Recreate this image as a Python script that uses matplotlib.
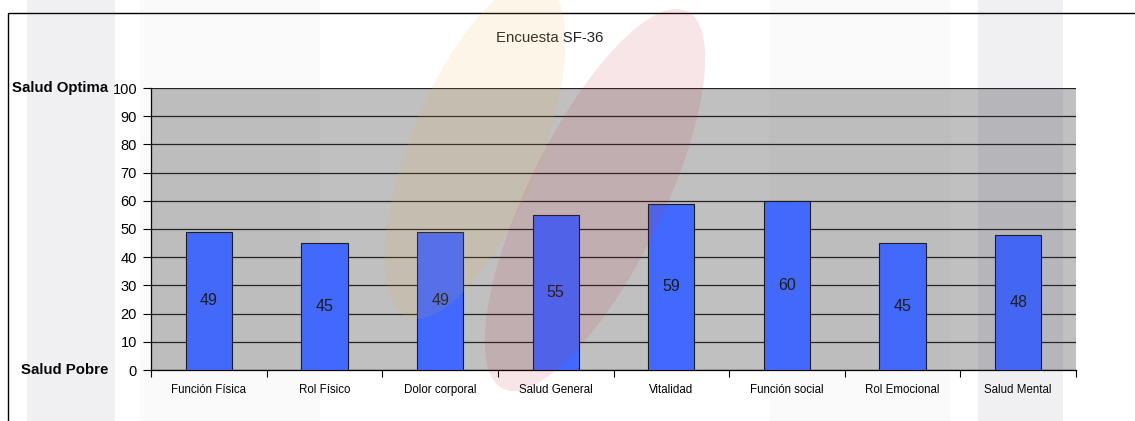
import numpy as np
import matplotlib.pyplot as plt
from matplotlib.patches import Rectangle, Ellipse

plt.rcParams['font.family'] = ['Liberation Sans', 'DejaVu Sans']

# SF-36 domain scores
dominios = ['Función Física', 'Rol Físico', 'Dolor corporal', 'Salud General',
            'Vitalidad', 'Función social', 'Rol Emocional', 'Salud Mental']
puntajes = [49, 45, 49, 55, 59, 60, 45, 48]
marcas_y = [0, 10, 20, 30, 40, 50, 60, 70, 80, 90, 100]

W, H = 1135, 421
fig = plt.figure(figsize=(W / 100, H / 100), dpi=100)
fig.patch.set_facecolor('white')

ax = fig.add_axes([151 / W, 1 - 370 / H, 925 / W, 282 / H])
ax.set_facecolor('#c0c0c0')

x = np.arange(len(dominios))
barras = ax.bar(x, puntajes, width=0.4, color='#4169ff', edgecolor='#1a1a1a',
                linewidth=0.8, zorder=3)
for xi, v in zip(x, puntajes):
    ax.text(xi, v / 2, str(v), ha='center', va='center', fontsize=11.5,
            color='#1a1a1a', zorder=4)

ax.set_xlim(-0.5, len(dominios) - 0.5)
ax.set_ylim(0, 100)
ax.set_yticks(marcas_y)
ax.set_yticklabels([str(m) for m in marcas_y], fontsize=10.5)
ax.yaxis.grid(True, color='#222222', linewidth=0.9, zorder=1)
ax.set_axisbelow(True)

# category labels sit between the boundary ticks
ax.set_xticks(np.arange(len(dominios) + 1) - 0.5)
ax.set_xticklabels([])
ax.set_xticks(x, minor=True)
ax.set_xticklabels(dominios, minor=True, fontsize=8.3)
ax.tick_params(axis='x', which='minor', length=0, pad=10)
ax.tick_params(axis='x', which='major', length=5, width=0.8, direction='out')
ax.tick_params(axis='y', length=6, width=0.8, pad=4)

for s in ['top', 'right']:
    ax.spines[s].set_visible(False)
ax.spines['left'].set_linewidth(0.9)
ax.spines['bottom'].set_linewidth(0.9)

fig.text(108 / W, 1 - 88 / H, 'Salud Optima', ha='right', va='center',
         fontsize=10.8, fontweight='bold')
fig.text(108 / W, 1 - 370 / H, 'Salud Pobre', ha='right', va='center',
         fontsize=10.8, fontweight='bold')
fig.text(550 / W, 1 - 38 / H, 'Encuesta SF-36', ha='center', va='center',
         fontsize=10.8, color='#222222')

# chart frame (left and top edges visible)
fig.patches.append(Rectangle((8 / W, -0.1), 1.2, 1 - 13 / H + 0.1,
                             transform=fig.transFigure, fill=False,
                             edgecolor='black', linewidth=1.0, zorder=0))

# faint background watermark drawn in pixel coordinates over the chart
wm = fig.add_axes([0, 0, 1, 1], zorder=10)
wm.set_xlim(0, W)
wm.set_ylim(H, 0)
wm.axis('off')
wm.patch.set_alpha(0)
bandas = [(27, 88, '#5a5a80', 0.09), (140, 180, '#8080a0', 0.04),
          (770, 180, '#8080a0', 0.04), (978, 85, '#5a5a80', 0.09)]
for x0, ancho, c, a in bandas:
    wm.add_patch(Rectangle((x0, 0), ancho, H, color=c, alpha=a, lw=0))
wm.add_patch(Ellipse((475, 150), 130, 360, angle=22, color='#f0b040',
                     alpha=0.12, lw=0))
wm.add_patch(Ellipse((595, 200), 135, 420, angle=26, color='#c03040',
                     alpha=0.12, lw=0))

fig.savefig('out.png', dpi=100)
